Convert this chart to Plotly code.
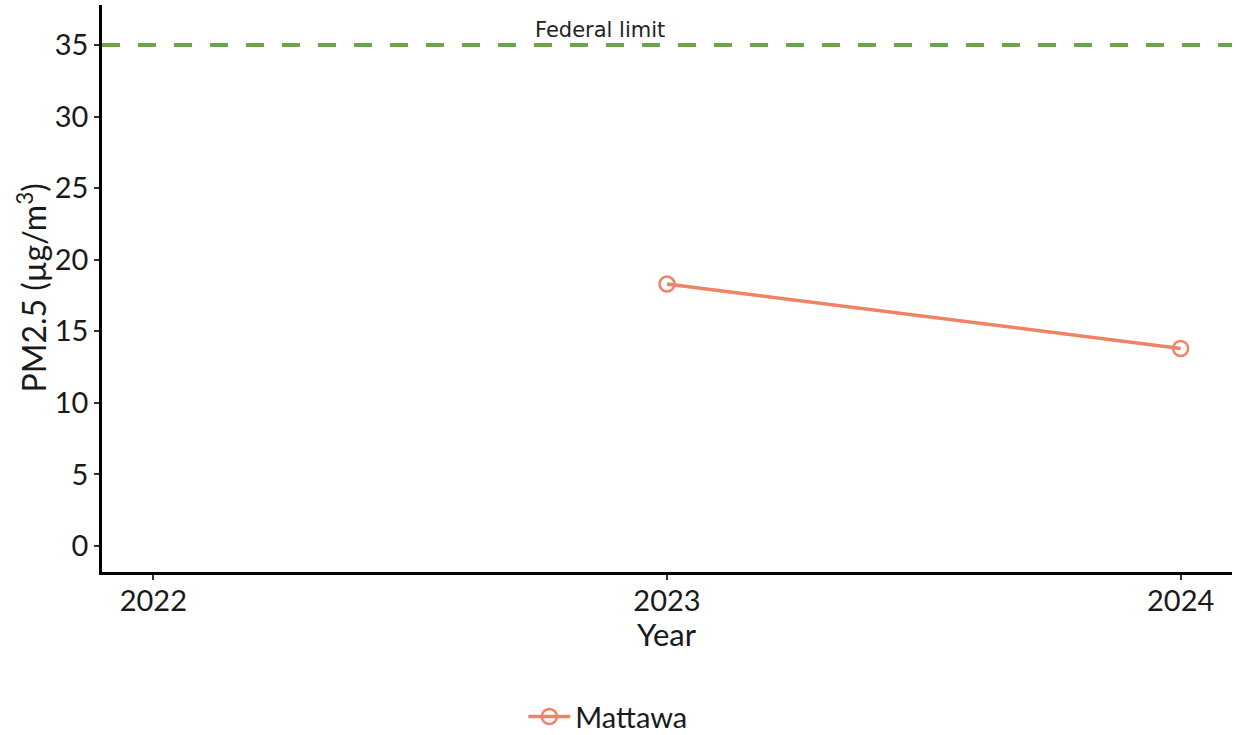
import plotly.graph_objects as go

years = [2023, 2024]
pm25 = [18.3, 13.8]
site = "Mattawa"
federal_limit = 35
limit_label = "Federal limit"
x_ticks = [2022, 2023, 2024]
y_ticks = [0, 5, 10, 15, 20, 25, 30, 35]
x_title = "Year"
y_title = "PM2.5 (µg/m<sup>3</sup>)"

salmon = "#F08363"
green = "#6FA24C"
ink = "#1a1a1a"

fig = go.Figure()
fig.add_trace(go.Scatter(
    x=years, y=pm25, name=site, mode="lines+markers",
    line=dict(color=salmon, width=3.5),
    marker=dict(symbol="circle-open", size=15, color=salmon, line=dict(width=2.5, color=salmon)),
))
fig.add_shape(type="line", xref="paper", x0=0, x1=1, yref="y", y0=federal_limit, y1=federal_limit,
              line=dict(color=green, width=4, dash="18px,18px"), layer="below")
fig.add_annotation(x=2022.87, y=federal_limit, yshift=15, text=limit_label, showarrow=False,
                   font=dict(family="DejaVu Sans", size=21, color="#222222"))
# axis titles as annotations for precise placement
fig.add_annotation(xref="paper", yref="paper", x=0.5, y=0, yshift=-62, xanchor="center", yanchor="middle",
                   text=x_title, showarrow=False, font=dict(family="Lato", size=31, color=ink))
fig.add_annotation(xref="paper", yref="paper", x=0, y=0.5, xshift=-71, xanchor="center", yanchor="middle",
                   textangle=-90, text=y_title, showarrow=False, font=dict(family="Lato", size=32, color=ink))

axis_common = dict(showline=True, linecolor="black", linewidth=2.5, ticks="outside",
                   ticklen=5, tickwidth=2, tickcolor="#333333", showgrid=False, zeroline=False,
                   tickfont=dict(family="Lato", size=29, color=ink))
fig.update_xaxes(range=[2021.9, 2024.1], tickvals=x_ticks, ticktext=[str(v) for v in x_ticks],
                 ticklabelstandoff=-4, **axis_common)
fig.update_yaxes(range=[-1.82, 37.8], tickvals=y_ticks, **axis_common)
fig.update_layout(
    width=1238, height=735,
    margin=dict(l=102, r=6, t=5, b=163),
    plot_bgcolor="white", paper_bgcolor="white",
    showlegend=True,
    legend=dict(orientation="h", xref="container", x=0.491, xanchor="center",
                yref="container", y=0.025, yanchor="middle", itemwidth=42,
                font=dict(family="Lato", size=29, color=ink)),
)
fig.write_html("out.html", config={"displayModeBar": False},
               post_script="document.body.style.margin='0';document.body.style.padding='0';")
